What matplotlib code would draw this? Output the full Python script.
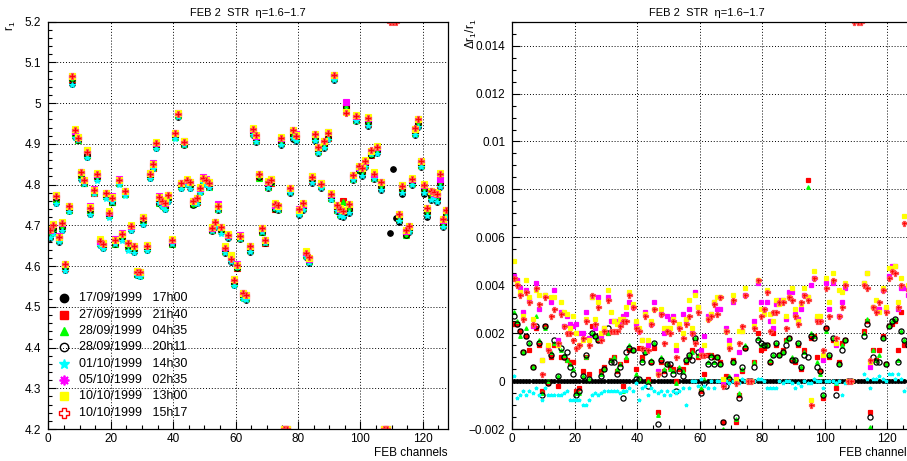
import numpy as np
import matplotlib
matplotlib.use("Agg")
import matplotlib.pyplot as plt
from matplotlib.ticker import MultipleLocator, FuncFormatter

plt.rcParams['font.family'] = ['Liberation Sans', 'DejaVu Sans']
plt.rcParams['mathtext.fontset'] = 'custom'
plt.rcParams['mathtext.rm'] = 'Liberation Sans'
plt.rcParams['mathtext.it'] = 'Liberation Sans:italic'

nan = np.nan

# r1 of the reference run (17/09/1999 17h00), per FEB channel (0 = dead channel)
r1_ref = [4.668, 4.683, 4.756, 4.660, 4.688, 4.590, 4.736, 5.047, 4.918, 4.913,
          4.813, 4.805, 4.868, 4.729, 4.780, 4.813, 4.652, 4.644, 4.769, 4.723,
          4.760, 4.657, 4.803, 4.667, 4.776, 4.641, 4.688, 4.634, 4.578, 4.575,
          4.703, 4.639, 4.816, 4.840, 4.891, 4.758, 4.747, 4.739, 4.760, 4.654,
          4.916, 4.967, 4.791, 4.899, 4.801, 4.791, 4.758, 4.754, 4.783, 4.805,
          4.801, 4.793, 4.688, 4.697, 4.738, 4.684, 4.633, 4.668, 4.611, 4.553,
          4.598, 4.668, 4.521, 4.517, 4.635, 4.922, 4.905, 4.826, 4.684, 4.657,
          4.791, 4.813, 4.744, 4.738, 4.897, 0, 0, 4.780, 4.913, 4.907,
          4.725, 4.738, 4.623, 4.608, 4.805, 4.908, 4.877, 4.791, 4.889, 4.911,
          4.764, 5.057, 4.735, 4.723, 4.720, 4.982, 4.731, 4.811, 4.957, 4.840,
          4.821, 4.844, 4.944, 4.875, 4.813, 4.877, 4.788, 0, 0, 4.680,
          4.838, 4.719, 4.709, 4.778, 4.684, 4.684, 4.799, 4.922, 4.942, 4.844,
          4.778, 4.721, 4.762, 4.766, 4.758, 4.795, 4.697, 4.721]

# relative change w.r.t. the reference run, in units of 1e-4
d_2709_2140 = [24, 24, 21, 12, 19, 13, 6, 22, 15, -4,
               23, -1, 10, 15, -2, 10, 10, 9, 8, 8,
               -4, -3, 4, 10, 3, 23, 19, 17, 4, 6,
               20, 9, 10, 4, 7, -2, 9, 13, 13, 5,
               14, 10, 13, 1, 8, 14, -13, 8, 4, 7,
               6, 5, 0, 5, 5, 8, 10, 13, 17, 10,
               -4, 3, 11, 11, 10, 10, 8, -17, 2, 1,
               9, -17, -6, 4, 14, 0, 0, 8, 20, 13,
               14, 15, 8, 20, 15, 11, 13, 17, 18, 9,
               8, 15, 5, 13, 84, 18, 19, 10, 4, -7,
               22, 10, 17, -3, 8, 16, 17, 0, 0, nan,
               nan, nan, 21, 25, -13, 13, 9, 13, 19, 7,
               23, 24, 25, 13, 29, 15, 16, 14]
d_2809_0435 = [29, 25, 19, 12, 22, 16, 6, 27, 17, -5,
               22, 0, 12, 16, 2, 13, 11, 9, 7, 5,
               -5, -5, 2, 10, 1, 20, 19, 18, 3, 5,
               20, 9, 10, 5, 7, -4, 10, 15, 13, 3,
               1, 9, 12, 0, 9, 16, -14, 10, 5, 7,
               5, 4, -1, 6, 4, 9, 11, 12, 18, 11,
               -3, 1, 8, 11, 8, 10, 7, -20, 1, 2,
               8, -16, -5, 5, 15, 0, 0, 8, 18, 15,
               15, 15, 9, 11, 16, 11, 12, 17, 18, 10,
               9, 16, 6, 12, 81, 20, 19, 8, 3, -6,
               21, 11, 18, -1, 7, 15, 17, 0, 0, nan,
               nan, nan, 20, 26, -19, 13, 9, 11, 18, 7,
               23, 25, 26, 9, 21, 17, 16, 14]
d_2809_2011 = [27, 24, 21, 12, 19, 16, 6, 23, 16, -6,
               23, -1, 11, 17, 2, 14, 10, 12, 6, 3,
               -6, -4, 2, 11, 1, 20, 19, 17, 2, 5,
               22, 8, 8, 3, 6, -7, 12, 14, 13, 1,
               1, 8, 12, -2, 8, 16, -18, 9, 3, 7,
               7, 3, -4, 4, 2, 9, 11, 9, 18, 12,
               -5, -1, 7, 10, 7, 10, 7, -17, -2, 1,
               8, -15, -7, 6, 14, 0, 0, 6, 17, 16,
               15, 15, 8, 11, 16, 11, 12, 15, 18, 9,
               9, 16, 6, 11, 10, 19, 18, 6, 4, -6,
               22, 11, 18, -6, 7, 13, 17, 0, 0, nan,
               nan, nan, 19, 24, -15, 10, 8, 8, 18, 7,
               23, 25, 26, 8, 21, 17, 15, 13]
d_0110_1430 = [2, -7, -6, -4, -6, -4, -5, -3, -6, -8,
               -3, -6, -6, -6, -6, -6, -5, -4, -8, -8,
               -8, -8, -10, -10, -8, -6, -5, -6, -5, -4,
               -4, -4, -4, -4, -5, -4, -4, -3, -4, -1,
               -8, -3, -2, -6, -3, -4, -5, -4, -6, -4,
               -6, -4, -5, -4, -3, -10, -3, 0, 0, -2,
               1, -2, -3, 0, -3, 0, 0, 0, 0, -1,
               0, 1, -1, 1, 0, 0, 0, 0, 1, 1,
               0, -3, -3, -3, -3, 0, -1, 0, 0, -1,
               -3, -1, -2, 0, -1, -1, 1, 0, 0, -3,
               0, 0, 0, -1, 0, -6, -1, 0, 0, nan,
               nan, nan, 3, 1, -3, 1, 1, 2, 1, 0,
               3, 3, 1, 3, 1, -4, -3, -2]
d_0510_0235 = [44, 42, 39, 29, 38, 34, 23, 41, 30, 9,
               36, 14, 33, 38, 17, 29, 23, 27, 24, 23,
               24, 20, 20, 29, 18, 35, 22, 35, 19, 22,
               35, 25, 25, 25, 25, 27, 28, 33, 31, 24,
               21, 17, 29, 15, 24, 33, 4, 28, 20, 27,
               26, 27, 13, 23, 28, 25, 30, 20, 37, 31,
               13, 19, 27, 28, 33, 30, 30, -1, 22, 17,
               33, 2, 12, 21, 36, 0, 0, 25, 41, 33,
               30, 33, 25, 22, 32, 34, 34, 26, 37, 37,
               28, 26, 30, 36, 35, 40, 43, 26, 25, 9,
               41, 30, 41, 15, 27, 33, 39, 0, 0, nan,
               nan, nan, 41, 45, 6, 31, 30, 30, 38, 30,
               44, 48, 48, 30, 39, 39, 36, 34]
d_1010_1300 = [50, 41, 37, 27, 42, 35, 26, 38, 36, 9,
               36, 15, 35, 35, 15, 33, 29, 28, 22, 27,
               20, 15, 17, 26, 17, 35, 26, 33, 20, 22,
               38, 29, 25, 24, 26, 26, 31, 37, 32, 25,
               22, 17, 28, 17, 25, 30, 3, 30, 22, 22,
               22, 26, 15, 24, 20, 26, 34, 22, 36, 31,
               11, 15, 26, 28, 33, 35, 35, 1, 21, 15,
               36, 1, 21, 21, 39, 0, 0, 23, 42, 30,
               28, 38, 28, 25, 34, 32, 34, 27, 35, 39,
               30, 25, 32, 39, 35, -8, 46, 27, 27, 11,
               43, 33, 45, 16, 38, 37, 41, 0, 0, nan,
               nan, nan, 41, 45, 8, 31, 34, 29, 39, 31,
               47, 47, 48, 33, 43, 69, 40, 37]
d_1010_1517 = [43, 40, 36, 26, 37, 33, 24, 39, 32, 3,
               35, 13, 27, 30, 16, 28, 23, 20, 20, 17,
               14, 15, 18, 25, 15, 36, 24, 31, 17, 21,
               34, 21, 21, 21, 23, 25, 25, 36, 31, 22,
               21, 14, 27, 13, 24, 30, 3, 28, 16, 21,
               20, 25, 10, 22, 18, 24, 27, 20, 16, 29,
               11, 11, 26, 27, 32, 28, 35, -2, 21, 14,
               34, -1, 16, 23, 36, 0, 0, 22, 42, 27,
               30, 37, 21, 29, 29, 33, 33, 22, 35, 34,
               27, 24, 33, 36, 34, -10, 43, 25, 25, 13,
               39, 27, 42, 18, 27, 31, 40, 0, 0, 2000,
               2000, 2000, 40, 39, 9, 31, 29, 33, 38, 29,
               43, 46, 45, 31, 40, 66, 38, 35]

runs = ["17/09/1999   17h00", "27/09/1999   21h40", "28/09/1999   04h35",
        "28/09/1999   20h11", "01/10/1999   14h30", "05/10/1999   02h35",
        "10/10/1999   13h00", "10/10/1999   15h17"]
deltas = [None, d_2709_2140, d_2809_0435, d_2809_2011, d_0110_1430,
          d_0510_0235, d_1010_1300, d_1010_1517]

# ROOT-like marker styles
styles = [
    dict(marker='o', mfc='black', mec='black'),
    dict(marker='s', mfc='red', mec='red'),
    dict(marker='^', mfc='#00ff00', mec='#00ff00'),
    dict(marker='o', mfc='none', mec='black'),
    dict(marker='*', mfc='cyan', mec='cyan'),
    dict(marker='s', mfc='magenta', mec='magenta'),
    dict(marker='s', mfc='yellow', mec='yellow'),
    dict(marker='P', mfc='red', mec='#ff5050'),
]
legend_styles = [
    dict(marker='o', mfc='black', mec='black', ms=6),
    dict(marker='s', mfc='red', mec='red', ms=6),
    dict(marker='^', mfc='#00ff00', mec='#00ff00', ms=6),
    dict(marker='o', mfc='none', mec='black', ms=6),
    dict(marker='*', mfc='cyan', mec='cyan', ms=7),
    dict(marker=(8, 2, 0), mfc='magenta', mec='magenta', ms=7, mew=1.3),
    dict(marker='s', mfc='yellow', mec='yellow', ms=6),
    dict(marker='P', mfc='white', mec='red', ms=7, mew=1.0),
]

chan = np.arange(len(r1_ref)) + 0.5
r1 = np.array(r1_ref)

W, H = 907, 461
fig = plt.figure(figsize=(W / 100, H / 100), dpi=100)
axL = fig.add_axes([48.3 / W, 32 / H, 399.4 / W, 407.3 / H])
axR = fig.add_axes([512.3 / W, 32 / H, 400 / W, 407.3 / H])

yl_lo, yl_hi = 4.2, 5.2
yr_lo, yr_hi = -0.002, 0.015

for k, (d, st) in enumerate(zip(deltas, styles)):
    rel = np.zeros(len(r1)) if d is None else np.array(d, dtype=float) * 1e-4
    vals = r1 * (1 + rel)
    ms_l = 4.0 if st['marker'] != 'P' else 5.0
    axL.plot(chan, np.clip(vals, yl_lo, yl_hi), ls='none', ms=ms_l, mew=0.8, **st)
    ms_r = 2.6 if k == 0 else (3.7 if st['mfc'] == 'none' else 2.6)
    if st['marker'] == 'P':
        ms_r = 3.6
    axR.plot(chan, np.clip(rel, yr_lo, yr_hi), ls='none', ms=ms_r, mew=0.9, **st)

fmt = FuncFormatter(lambda v, p: ('%g' % round(v, 6)).replace('-', '\u2212'))
for ax, (lo, hi), maj, mnr in [(axL, (yl_lo, yl_hi), 0.1, 0.02),
                               (axR, (yr_lo, yr_hi), 0.002, 0.0005)]:
    ax.set_xlim(0, 128)
    ax.set_ylim(lo, hi)
    ax.xaxis.set_major_locator(MultipleLocator(20))
    ax.xaxis.set_minor_locator(MultipleLocator(5))
    ax.yaxis.set_major_locator(MultipleLocator(maj))
    ax.yaxis.set_minor_locator(MultipleLocator(mnr))
    ax.yaxis.set_major_formatter(fmt)
    ax.tick_params(which='both', direction='in', top=False, right=False,
                   labelsize=8.5, width=0.8)
    ax.tick_params(which='major', length=6)
    ax.tick_params(which='minor', length=3)
    ax.tick_params(axis='x', pad=3)
    ax.tick_params(axis='y', pad=5)
    ax.grid(True, which='major', color='black', ls=(0, (1, 2)), lw=0.7)
    for s in ax.spines.values():
        s.set_linewidth(0.9)

# legend, drawn ROOT-style without a frame
for i, (lab, st) in enumerate(zip(runs, legend_styles)):
    y = 0.321 - i * 0.0401
    axL.plot([0.04], [y], transform=axL.transAxes, ls='none', clip_on=False, **st)
    axL.text(0.0776, y, lab, transform=axL.transAxes, va='center', ha='left', fontsize=9)

title = 'FEB 2  STR  \u03b7=1.6\u22121.7'
fig.text(247.5 / W, 1 - 12.7 / H, title, ha='center', va='center', fontsize=8)
fig.text(706.5 / W, 1 - 12.7 / H, title, ha='center', va='center', fontsize=8)
fig.text(11 / W, 1 - 21 / H, r'r$_1$', rotation=90, ha='center', va='top', fontsize=8.5)
fig.text(471 / W, 1 - 19 / H, r'$\Delta$r$_1$/r$_1$', rotation=90, ha='center',
         va='top', fontsize=8.5)
fig.text(447.7 / W, 1 - 452.7 / H, 'FEB channels', ha='right', va='center', fontsize=8.5)
fig.text(912.3 / W, 1 - 452.7 / H, 'FEB channels', ha='right', va='center', fontsize=8.5)

fig.savefig('out.png', dpi=100)
